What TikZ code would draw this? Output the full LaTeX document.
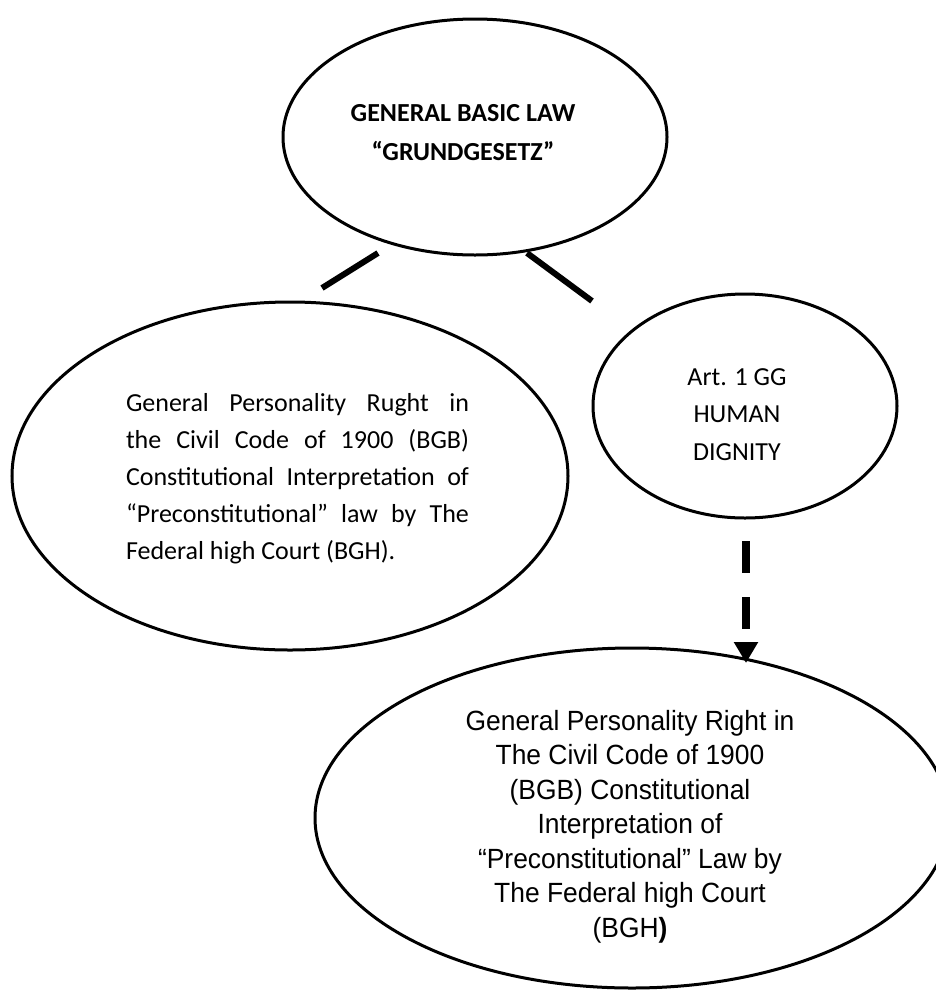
\documentclass[tikz,border=0pt]{standalone}
\usepackage{fontspec}
\setmainfont{Carlito}
\newfontfamily\arialf[FakeStretch=0.95]{Liberation Sans}
\usetikzlibrary{shapes.geometric,arrows.meta}
\begin{document}
\begin{tikzpicture}[x=1pt,y=-1pt,
  oval/.style={draw,ellipse,line width=3pt,inner sep=0pt,outer sep=0pt},
  link/.style={line width=6pt},
  dasharrow/.style={line width=8pt,dash pattern=on 32pt off 24pt,-{Triangle[width=23pt,length=21pt]}},
  txt/.style={inner sep=0pt,outer sep=0pt}]
\useasboundingbox (0,0) rectangle (936,994);
% ellipses
\node[oval,minimum width=384pt,minimum height=236pt] (top) at (475,137) {};
\node[oval,minimum width=556pt,minimum height=348pt] (left) at (290,476) {};
\node[oval,minimum width=304pt,minimum height=224pt] (art) at (745,406) {};
\node[oval,minimum width=634pt,minimum height=340pt] (bot) at (632,818) {};
% texts
\node[txt,anchor=base] (toptxt) at (463,121) {\fontsize{26}{39}\selectfont\parbox[t]{320pt}{\centering\bfseries GENERAL BASIC LAW\\ “GRUNDGESETZ”}};
\node[txt,anchor=base west] (lefttxt) at (126,411) {\fontsize{26}{37}\selectfont\parbox[t]{343pt}{%
\makebox[343pt][s]{General Personality Rught in}\\
\makebox[343pt][s]{the Civil Code of 1900 (BGB)}\\
\makebox[343pt][s]{Constitutional Interpretation of}\\
\makebox[343pt][s]{“Preconstitutional” law by The}\\
Federal high Court (BGH).}};
\node[txt,anchor=base] (arttxt) at (737,385) {\fontsize{26}{37.5}\selectfont\parbox[t]{200pt}{\centering Art. 1 GG\\ HUMAN\\ DIGNITY}};
\node[txt,anchor=base] (bottxt) at (630,730) {\arialf\fontsize{27.8}{34.5}\selectfont\parbox[t]{420pt}{\centering General Personality Right in\\ The Civil Code of 1900\\ (BGB) Constitutional\\ Interpretation of\\ “Preconstitutional” Law by\\ The Federal high Court\\ (BGH\textbf{)}}};
% connectors
\coordinate (l1) at (378,253);
\coordinate (l2) at (322,288);
\coordinate (r1) at (527,253);
\coordinate (r2) at (592,301);
\draw[link] (l1) -- (l2);
\draw[link] (r1) -- (r2);
\coordinate (a1) at (746,541);
\coordinate (a2) at (746,663);
\draw[dasharrow] (a1) -- (a2);
\end{tikzpicture}
\end{document}
